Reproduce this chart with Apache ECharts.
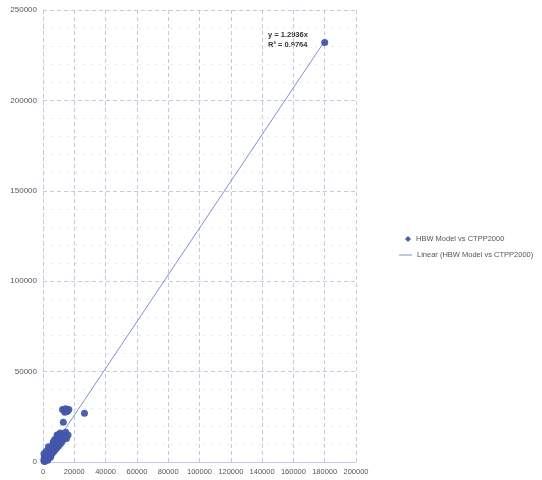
<!DOCTYPE html>
<html><head><meta charset="utf-8">
<script src="https://cdn.jsdelivr.net/npm/echarts@6/dist/echarts.min.js"></script>
<style>html,body{margin:0;padding:0;background:#fff}#c{width:542px;height:480px}</style>
</head><body><div id="c"></div>
<script>
// HBW Model (x) vs CTPP2000 (y)
const hbwX = [500,1000,1500,2000,800,2500,3000,3500,1200,4000,4500,2000,5000,5500,3000,6000,6500,4000,7000,7500,5000,8000,8500,6000,9000,9500,7000,10000,10500,8000,11000,11500,9000,12000,12500,10000,13000,13500,11000,14000,15000,12000,14500,2000,3500,6500,9000,7500,1500,3000,600,5000,16000,1000,2500,4500,
  12500,13500,14500,15500,16500,14000,13000,26500,180000];
const ctppY = [800,500,2000,1200,2500,3000,2000,4000,3500,3000,5000,4500,4200,6000,5500,5000,7000,6500,6000,8000,8000,7000,9000,9000,8000,10000,10500,9000,11000,12000,10000,12000,13000,11000,13500,14500,12500,15000,16000,14000,13000,15500,16500,6000,8500,11000,15000,12500,1000,1000,4500,3000,15000,300,1500,2500,
  29000,28500,29500,28000,29000,27500,22000,27000,232000];
const slope = 1.2936;
const r2 = 0.9764;
const xTicks = [0,20000,40000,60000,80000,100000,120000,140000,160000,180000,200000];
const yTicks = [0,50000,100000,150000,200000,250000];
const seriesName = 'HBW Model vs CTPP2000';
const trendName = 'Linear (HBW Model vs CTPP2000)';

const pts = hbwX.map((x,i)=>[x, ctppY[i]]);
const xMax = Math.max(...hbwX);
const trend = [[0,0],[xMax, slope*xMax]];
const gridCol = '#c3cbe4';
const plain = v => String(v);
const chart = echarts.init(document.getElementById('c'));
chart.setOption({
  animation:false,
  grid:{left:43,right:186,top:10,bottom:18},
  xAxis:{type:'value',min:xTicks[0],max:xTicks[xTicks.length-1],interval:20000,
    axisLine:{show:true,lineStyle:{color:gridCol,width:1}},
    axisTick:{show:false},
    axisLabel:{color:'#555',fontSize:7.5,fontFamily:'Liberation Sans',margin:6,formatter:plain},
    splitLine:{show:true,lineStyle:{color:gridCol,type:[4,3],width:1}}},
  yAxis:{type:'value',min:yTicks[0],max:yTicks[yTicks.length-1],interval:50000,
    axisLine:{show:true,lineStyle:{color:gridCol,type:[4,3],width:1}},
    axisTick:{show:false},
    axisLabel:{color:'#555',fontSize:8,fontFamily:'Liberation Sans',margin:6,formatter:plain},
    splitLine:{show:true,lineStyle:{color:gridCol,type:[4,3],width:1}},
    minorTick:{show:false,splitNumber:5},
    minorSplitLine:{show:true,lineStyle:{color:'#e1e6f3',type:[2,6],width:1}}},
  legend:[
    {data:[{name:seriesName,icon:'diamond'}],orient:'vertical',left:400,top:230,itemWidth:6,itemHeight:6,itemGap:6,
     textStyle:{fontSize:7.5,color:'#555',fontFamily:'Liberation Sans'}},
    {data:[{name:trendName,icon:'rect'}],left:394,top:246,itemWidth:13,itemHeight:1,
     textStyle:{fontSize:7.5,color:'#555',fontFamily:'Liberation Sans'}}
  ],
  series:[
    {name:seriesName,type:'scatter',data:pts,symbol:'circle',symbolSize:7,
     itemStyle:{color:'#4456ab',opacity:0.95},z:3},
    {name:trendName,type:'line',data:trend,symbol:'none',
     lineStyle:{color:'#8391c9',width:1},itemStyle:{color:'#8391c9'},z:2}
  ],
  graphic:[
    {type:'text',left:268,top:31,style:{text:'y = '+slope+'x',fontSize:7.5,fill:'#333',fontFamily:'Liberation Sans',fontWeight:'bold'}},
    {type:'text',left:268,top:41,style:{text:'R² = '+r2,fontSize:7.5,fill:'#333',fontFamily:'Liberation Sans',fontWeight:'bold'}}
  ]
});
</script></body></html>
